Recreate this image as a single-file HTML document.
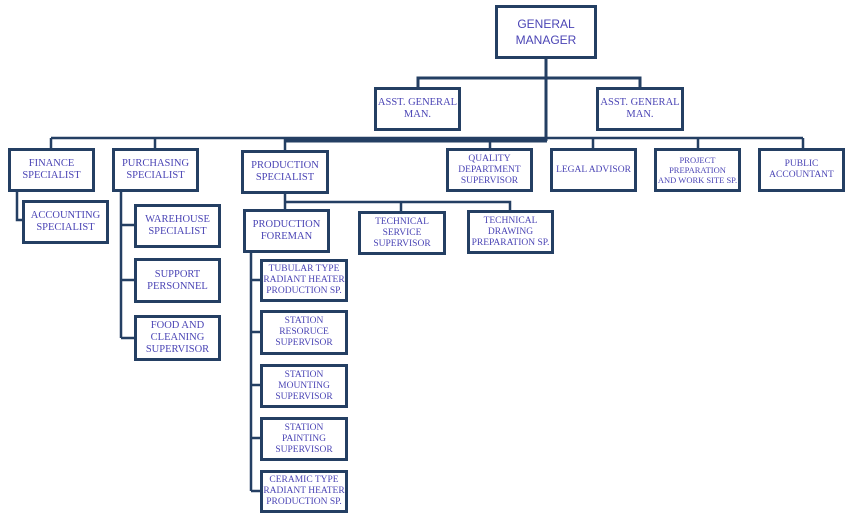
<!DOCTYPE html>
<html><head><meta charset="utf-8"><style>
body{margin:0;background:#fff;width:850px;height:519px;position:relative;overflow:hidden}
.b{position:absolute;box-sizing:border-box;border:3px solid #243f63;background:#fff;display:flex;align-items:center;justify-content:center;text-align:center;font-family:"Liberation Serif",serif;font-size:10.5px;line-height:12px;color:#4b45b5}
.s{font-size:9.5px;line-height:11px}
svg{position:absolute;left:0;top:0}
</style></head><body>
<svg width="850" height="519" fill="none" stroke="#243f63">
<g stroke-width="3">
<line x1="546" y1="58" x2="546" y2="141"/>
<polyline points="418,87 418,78 640,78 640,87"/>
<line x1="285" y1="140" x2="547" y2="140" stroke-width="5"/>
</g>
<g stroke-width="2.5">
<line x1="51" y1="138" x2="803" y2="138"/>
<line x1="51" y1="138" x2="51" y2="148"/>
<line x1="155" y1="138" x2="155" y2="148"/>
<line x1="285" y1="138" x2="285" y2="150"/>
<line x1="490" y1="138" x2="490" y2="148"/>
<line x1="593" y1="138" x2="593" y2="148"/>
<line x1="698" y1="138" x2="698" y2="148"/>
<line x1="803" y1="138" x2="803" y2="148"/>
<polyline points="17,191 17,220 22,220"/>
<line x1="121" y1="191" x2="121" y2="338"/>
<line x1="121" y1="225" x2="134" y2="225"/>
<line x1="121" y1="280" x2="134" y2="280"/>
<line x1="121" y1="338" x2="134" y2="338"/>
<line x1="285" y1="193" x2="285" y2="209"/>
<polyline points="285,202 510,202 510,210"/>
<line x1="401" y1="202" x2="401" y2="211"/>
<line x1="251" y1="252" x2="251" y2="491"/>
<line x1="251" y1="280" x2="260" y2="280"/>
<line x1="251" y1="332" x2="260" y2="332"/>
<line x1="251" y1="385" x2="260" y2="385"/>
<line x1="251" y1="438" x2="260" y2="438"/>
<line x1="251" y1="491" x2="260" y2="491"/>
</g>
</svg>
<div class="b" style="left:495px;top:5px;width:102px;height:54px;font-family:'Liberation Sans',sans-serif;font-size:12px;line-height:16px">GENERAL<br>MANAGER</div>
<div class="b" style="left:374px;top:87px;width:87px;height:44px">ASST. GENERAL<br>MAN.</div>
<div class="b" style="left:596px;top:87px;width:88px;height:44px">ASST. GENERAL<br>MAN.</div>
<div class="b" style="left:8px;top:148px;width:87px;height:44px">FINANCE<br>SPECIALIST</div>
<div class="b" style="left:112px;top:148px;width:87px;height:44px">PURCHASING<br>SPECIALIST</div>
<div class="b" style="left:241px;top:150px;width:88px;height:44px">PRODUCTION<br>SPECIALIST</div>
<div class="b s" style="left:446px;top:148px;width:87px;height:44px">QUALITY<br>DEPARTMENT<br>SUPERVISOR</div>
<div class="b s" style="left:550px;top:148px;width:87px;height:44px">LEGAL ADVISOR</div>
<div class="b s" style="left:654px;top:148px;width:87px;height:44px;font-size:8.5px;line-height:10px">PROJECT<br>PREPARATION<br>AND WORK SITE SP.</div>
<div class="b s" style="left:758px;top:148px;width:87px;height:44px">PUBLIC<br>ACCOUNTANT</div>
<div class="b" style="left:22px;top:200px;width:87px;height:44px">ACCOUNTING<br>SPECIALIST</div>
<div class="b" style="left:134px;top:204px;width:87px;height:44px">WAREHOUSE<br>SPECIALIST</div>
<div class="b" style="left:134px;top:258px;width:87px;height:45px">SUPPORT<br>PERSONNEL</div>
<div class="b" style="left:134px;top:315px;width:87px;height:46px">FOOD AND<br>CLEANING<br>SUPERVISOR</div>
<div class="b" style="left:243px;top:209px;width:87px;height:44px">PRODUCTION<br>FOREMAN</div>
<div class="b s" style="left:358px;top:211px;width:88px;height:44px">TECHNICAL<br>SERVICE<br>SUPERVISOR</div>
<div class="b s" style="left:467px;top:210px;width:87px;height:44px">TECHNICAL<br>DRAWING<br>PREPARATION SP.</div>
<div class="b s" style="left:260px;top:259px;width:88px;height:43px">TUBULAR TYPE<br>RADIANT HEATER<br>PRODUCTION SP.</div>
<div class="b s" style="left:260px;top:310px;width:88px;height:45px">STATION<br>RESORUCE<br>SUPERVISOR</div>
<div class="b s" style="left:260px;top:364px;width:88px;height:44px">STATION<br>MOUNTING<br>SUPERVISOR</div>
<div class="b s" style="left:260px;top:417px;width:88px;height:44px">STATION<br>PAINTING<br>SUPERVISOR</div>
<div class="b s" style="left:260px;top:470px;width:88px;height:43px">CERAMIC TYPE<br>RADIANT HEATER<br>PRODUCTION SP.</div>
</body></html>
